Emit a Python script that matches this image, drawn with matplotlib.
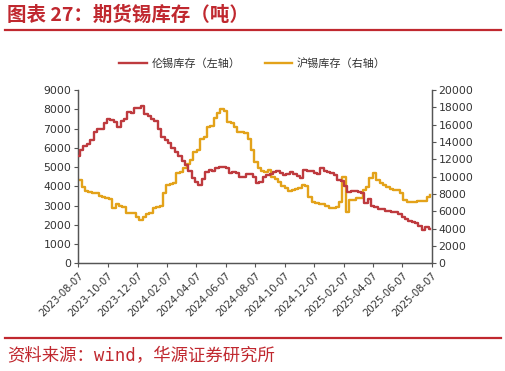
import matplotlib
matplotlib.use("Agg")
import matplotlib.pyplot as plt
import pandas as pd
import numpy as np

plt.rcParams['font.family'] = ['Noto Sans CJK SC', 'DejaVu Sans']

# ---- data (weekly) ----
start_date = '2023-08-07'
lme_tin = [5550, 5900, 6100, 6200, 6400, 6800, 7000, 6950, 7300, 7500,
           7450, 7350, 7100, 7400, 7500, 7850, 7800, 8050, 8050, 8150,
           7750, 7650, 7500, 7400, 7000, 6550, 6400, 6250, 5970, 5800,
           5550, 5300, 5100, 4800, 4450, 4200, 4080, 4400, 4750, 4850,
           4780, 4950, 5000, 4980, 4950, 4700, 4750, 4680, 4500, 4500,
           4650, 4620, 4500, 4150, 4200, 4500, 4600, 4650, 4750, 4780,
           4700, 4580, 4650, 4720, 4650, 4550, 4420, 4850, 4800, 4780,
           4700, 4650, 4950, 4800, 4750, 4700, 4600, 4350, 4250, 4000,
           3700, 3750, 3750, 3700, 3650, 3150, 3350, 3000, 2900, 2820,
           2800, 2720, 2700, 2680, 2650, 2550, 2420, 2300, 2200, 2150,
           2080, 1950, 1730, 1900, 1780]
shfe_tin = [9600, 8840, 8300, 8250, 8080, 8080, 7800, 7690, 7500, 7450,
            6400, 6840, 6600, 6500, 5850, 5800, 5770, 5400, 5000, 5400,
            5650, 5770, 6350, 6450, 6600, 8100, 9000, 9100, 9230, 10400,
            10550, 11000, 11500, 11920, 12900, 13100, 14400, 14600, 15760, 15830,
            16730, 17400, 17850, 17600, 16300, 16150, 15700, 15200, 15150, 15000,
            14300, 13070, 11700, 10960, 10600, 10550, 10770, 10000, 9700, 9400,
            8900, 8700, 8300, 8460, 8550, 8700, 9000, 8900, 7600, 7110,
            7000, 6900, 6800, 6650, 6400, 6350, 6500, 7110, 9950, 5960,
            7300, 7300, 7500, 7500, 8460, 8840, 9810, 10390, 9610, 9300,
            9040, 8840, 8600, 8460, 8460, 8080, 7300, 7050, 7040, 7040,
            7230, 7230, 7230, 7690, 7880]
tick_labels = ['2023-08-07', '2023-10-07', '2023-12-07', '2024-02-07', '2024-04-07',
               '2024-06-07', '2024-08-07', '2024-10-07', '2024-12-07', '2025-02-07',
               '2025-04-07', '2025-06-07', '2025-08-07']
left_ticks = [0, 1000, 2000, 3000, 4000, 5000, 6000, 7000, 8000, 9000]
right_ticks = [0, 2000, 4000, 6000, 8000, 10000, 12000, 14000, 16000, 18000, 20000]

dates = pd.date_range(start_date, periods=len(lme_tin), freq='7D')

RED = '#BE3A3E'
YEL = '#E3A21A'
TXT = '#333333'
AX = '#555555'
TRED = '#C0282F'

fig = plt.figure(figsize=(5.06, 3.71), dpi=100)
ax = fig.add_axes([0.1547, 0.2903, 0.6985, 0.4671])
ax2 = ax.twinx()

l1, = ax.plot(dates, lme_tin, color=RED, lw=1.7, drawstyle='steps-mid', zorder=3)
l2, = ax2.plot(dates, shfe_tin, color=YEL, lw=1.7, drawstyle='steps-post', zorder=2)
ax.set_zorder(ax2.get_zorder() + 1)
ax.patch.set_visible(False)

tick_dates = pd.to_datetime(tick_labels)
ax.set_xlim(tick_dates[0], tick_dates[-1])
ax.set_xticks(tick_dates)
ax.set_xticklabels(tick_labels, rotation=45, ha='right', rotation_mode='anchor',
                   fontsize=7.2, color=TXT, family='DejaVu Sans')
ax.set_ylim(0, 9000)
ax.set_yticks(left_ticks)
ax.set_yticklabels([str(v) for v in left_ticks], fontsize=7.8, color=TXT, family='DejaVu Sans')
ax2.set_ylim(0, 20000)
ax2.set_yticks(right_ticks)
ax2.set_yticklabels([str(v) for v in right_ticks], fontsize=7.8, color=TXT, family='DejaVu Sans')

for a in (ax, ax2):
    a.spines['top'].set_visible(False)
    for s in ('left', 'right', 'bottom'):
        a.spines[s].set_color(AX)
        a.spines[s].set_linewidth(0.9)
    a.tick_params(direction='out', length=3, width=0.8, color=AX, pad=2)

leg = fig.legend([l1, l2], ['伦锡库存（左轴）', '沪锡库存（右轴）'], loc='center',
                 bbox_to_anchor=(0.499, 0.829), ncol=2, frameon=False, fontsize=8,
                 handlelength=2.5, columnspacing=2.2, handletextpad=0.4)
for t in leg.get_texts():
    t.set_color(TXT)

# title and rules
fig.text(0.014, 0.958, '图表 27：期货锡库存（吨）', fontsize=14, fontweight='bold',
         color=TRED, ha='left', va='center')
fig.add_artist(plt.Line2D([0.01, 0.99], [0.919, 0.919], color=TRED, lw=1.6))
fig.add_artist(plt.Line2D([0.01, 0.99], [0.090, 0.090], color=TRED, lw=1.6))
fig.text(0.014, 0.039, '资料来源：wind，华源证券研究所', fontsize=12.5, fontweight='light',
         family=['DejaVu Sans Mono', 'Noto Sans CJK SC'],
         color=TRED, ha='left', va='center')

fig.savefig('out.png', dpi=100)
